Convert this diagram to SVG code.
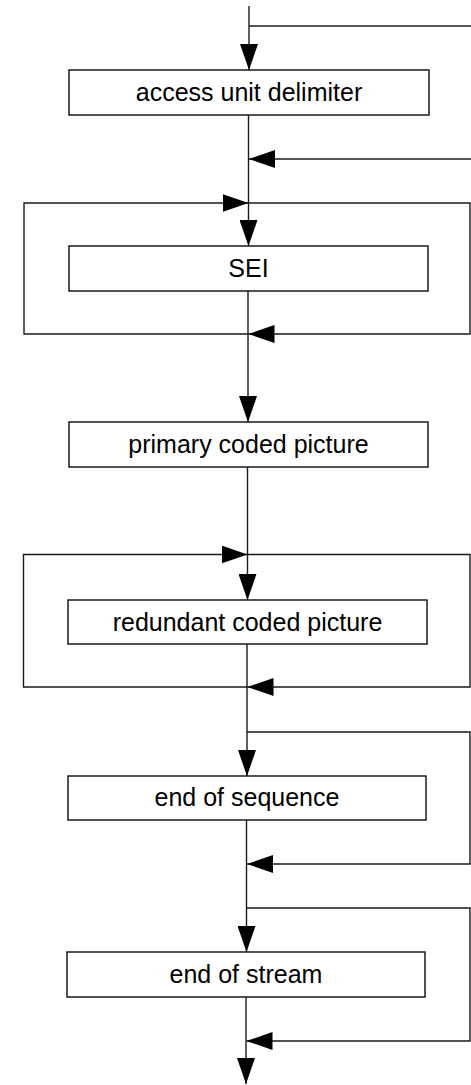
<svg xmlns="http://www.w3.org/2000/svg" width="471" height="1085" viewBox="0 0 471 1085">
<style>
.box{fill:#fff;stroke:#1a1a1a;stroke-width:1.5}
.lbl{font-family:"Liberation Sans",Arial,sans-serif;font-size:25px;fill:#000;text-anchor:middle}
.ln{fill:none;stroke:#1a1a1a;stroke-width:1.4}
.arr{marker-end:url(#ah)}
</style>
<defs>
<marker id="ah" markerUnits="userSpaceOnUse" markerWidth="26" markerHeight="18" viewBox="0 0 26 18" refX="26" refY="9" orient="auto">
<path d="M0,0 L26,9 L0,18 Z" fill="#000"/>
</marker>
</defs>
<rect width="471" height="1085" fill="#fff"/>
<g id="connectors">
<line class="ln arr" x1="249" y1="6" x2="249" y2="70"/>
<line class="ln arr" x1="248.5" y1="115" x2="248.5" y2="246"/>
<line class="ln arr" x1="248" y1="291" x2="248" y2="422"/>
<line class="ln arr" x1="247.5" y1="467" x2="247.5" y2="600"/>
<line class="ln arr" x1="247" y1="644" x2="247" y2="776"/>
<line class="ln arr" x1="246.5" y1="820" x2="246.5" y2="952"/>
<line class="ln arr" x1="246" y1="997" x2="246" y2="1084"/>
<path class="ln" d="M249,26 H472"/>
<path class="ln arr" d="M472,159 H249"/>
<path class="ln arr" d="M248.5,334 H24 V203 H248.5"/>
<path class="ln arr" d="M248.5,203 H470 V334 H248.5"/>
<path class="ln arr" d="M247.5,687 H23.5 V554.5 H247.5"/>
<path class="ln arr" d="M247.5,554.5 H470 V687 H247.5"/>
<path class="ln arr" d="M247,732 H470 V864 H247"/>
<path class="ln arr" d="M246.5,908 H470 V1041 H246.5"/>
</g>
<g id="node-aud"><rect class="box" x="69" y="70" width="360" height="45"/><text class="lbl" x="249" y="100.5">access unit delimiter</text></g>
<g id="node-sei"><rect class="box" x="69" y="246" width="359" height="45"/><text class="lbl" x="248.5" y="277">SEI</text></g>
<g id="node-primary"><rect class="box" x="69" y="422" width="359" height="45"/><text class="lbl" x="248.5" y="453">primary coded picture</text></g>
<g id="node-redundant"><rect class="box" x="68" y="600" width="359" height="44"/><text class="lbl" x="247.5" y="630.5">redundant coded picture</text></g>
<g id="node-eos"><rect class="box" x="68" y="776" width="358" height="44"/><text class="lbl" x="247" y="806">end of sequence</text></g>
<g id="node-eostream"><rect class="box" x="67" y="952" width="358" height="45"/><text class="lbl" x="246" y="983">end of stream</text></g>
</svg>
